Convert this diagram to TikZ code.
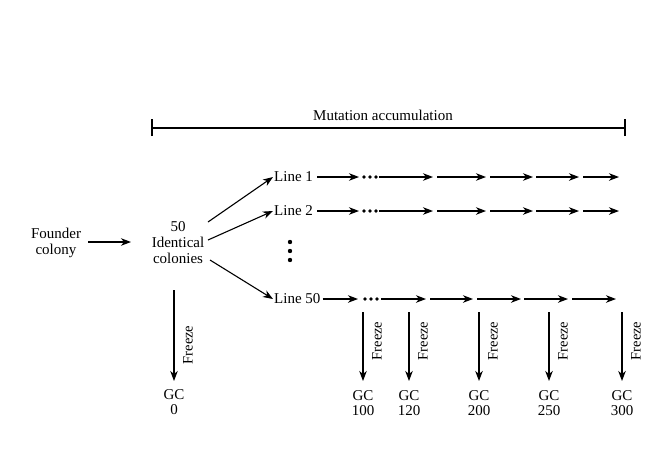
\documentclass[tikz,border=0pt]{standalone}
\usepackage{fontspec}
\setmainfont{Liberation Serif}
\usetikzlibrary{arrows.meta}
\begin{document}
\begin{tikzpicture}[x=1pt,y=-1pt,
  every node/.style={font=\fontsize{15}{16}\selectfont, inner sep=0pt},
  arr/.style={line width=1.1pt, -{Stealth[length=10pt,width=7.5pt,inset=3pt]}},
  plain/.style={line width=1.1pt},
  dot/.style={fill=black, draw=none},
  gc/.style={font=\fontsize{15}{15}\selectfont, align=center},
  frz/.style={rotate=90, font=\fontsize{14.5}{15}\selectfont}]
\useasboundingbox (0,0) rectangle (667,472);
% bracket
\coordinate (bl) at (152,128);
\coordinate (br) at (625,128);
\draw[plain] (bl) -- (br);
\draw[plain] ([yshift=-8]bl) -- ([yshift=9]bl);
\draw[plain] ([yshift=-8]br) -- ([yshift=9]br);
\node (mut) at (383,115) {Mutation accumulation};
% founder
\node[align=center] (founder) at (56,243) {Founder\\colony};
\node[align=center] (ident) at (178,243) {50\\Identical\\colonies};
\draw[arr] (88,242) -- (131,242);
% lines
\node[anchor=west] (l1) at (274,177) {Line 1};
\node[anchor=west] (l2) at (274,211) {Line 2};
\node[anchor=west] (l50) at (274,299) {Line 50};
\draw[arr] (208,222) -- ([xshift=-1]l1.west);
\draw[arr] (208,240) -- ([xshift=-1]l2.west);
\draw[arr] (210,260) -- ([xshift=-1]l50.west);
% vertical dots
\foreach \y in {242,251,260} \fill[dot] (290,\y) circle (2.2);
% rows
\foreach \r/\yy in {a/177,b/211} {
  \coordinate (\r0) at (317,\yy);
  \draw[arr] (\r0) -- (359,\yy);
  \foreach \x in {364,370,376} \fill[dot] (\x,\yy) circle (1.9);
  \draw[arr] (379,\yy) -- (433,\yy);
  \draw[arr] (437,\yy) -- (486,\yy);
  \draw[arr] (490,\yy) -- (533,\yy);
  \draw[arr] (536,\yy) -- (579,\yy);
  \draw[arr] (583,\yy) -- (619,\yy);
}
\draw[arr] ([xshift=2]l50.east) -- (358,299);
\foreach \x in {365,371,377} \fill[dot] (\x,299) circle (1.9);
\draw[arr] (381,299) -- (426,299);
\draw[arr] (430,299) -- (473,299);
\draw[arr] (477,299) -- (521,299);
\draw[arr] (524,299) -- (568,299);
\draw[arr] (572,299) -- (616,299);
% freeze from identical colonies
\node[gc] (gc0) at (174,402) {GC\\0};
\draw[arr] (174,290) -- (174,381);
\node[frz] (f0) at (188,345) {Freeze};
% other freezes
\foreach \x/\n in {363/100,409/120,479/200,549/250,622/300} {
  \node[gc] (gc\n) at (\x,403) {GC\\\n};
  \draw[arr] (\x,312) -- (\x,381);
  \node[frz] (f\n) at (\x+14,341) {Freeze};
}
\end{tikzpicture}
\end{document}
